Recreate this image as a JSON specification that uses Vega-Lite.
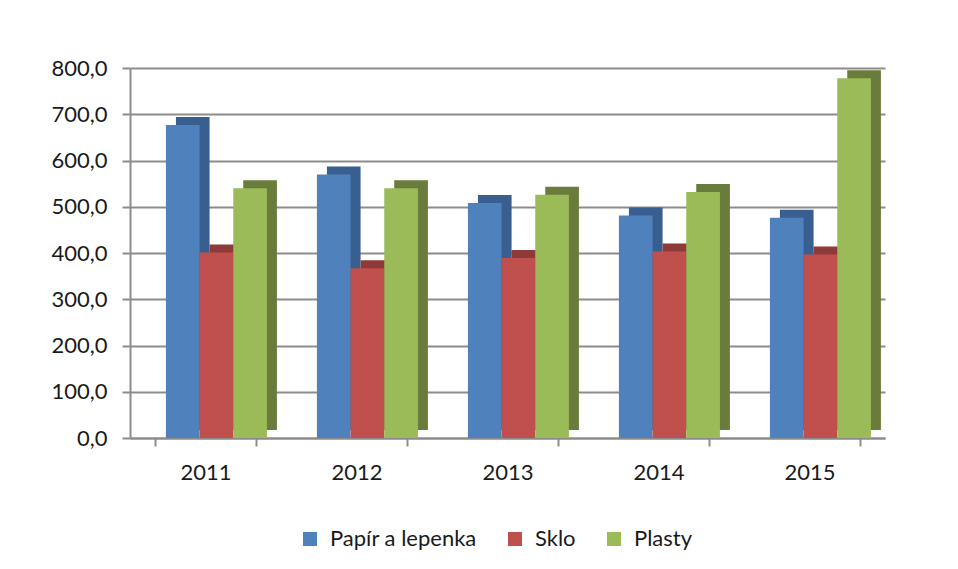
{
  "$schema": "https://vega.github.io/schema/vega-lite/v6.json",
  "autosize": "none",
  "width": 755,
  "height": 370,
  "padding": {"left": 130, "top": 68, "right": 73, "bottom": 131},
  "background": "white",
  "data": {
    "values": [
      {"rok": "2011", "druh": "Papír a lepenka", "hodnota": 677},
      {"rok": "2011", "druh": "Sklo", "hodnota": 401},
      {"rok": "2011", "druh": "Plasty", "hodnota": 540},
      {"rok": "2012", "druh": "Papír a lepenka", "hodnota": 570},
      {"rok": "2012", "druh": "Sklo", "hodnota": 367},
      {"rok": "2012", "druh": "Plasty", "hodnota": 540},
      {"rok": "2013", "druh": "Papír a lepenka", "hodnota": 508},
      {"rok": "2013", "druh": "Sklo", "hodnota": 389},
      {"rok": "2013", "druh": "Plasty", "hodnota": 526},
      {"rok": "2014", "druh": "Papír a lepenka", "hodnota": 481},
      {"rok": "2014", "druh": "Sklo", "hodnota": 403},
      {"rok": "2014", "druh": "Plasty", "hodnota": 532},
      {"rok": "2015", "druh": "Papír a lepenka", "hodnota": 476},
      {"rok": "2015", "druh": "Sklo", "hodnota": 397},
      {"rok": "2015", "druh": "Plasty", "hodnota": 778}
    ]
  },
  "encoding": {
    "x": {
      "field": "rok",
      "type": "nominal",
      "title": null,
      "scale": {"paddingInner": 0.33, "paddingOuter": 0.165},
      "axis": {
        "labelAngle": 0,
        "labelFontSize": 22,
        "labelColor": "#1a1a1a",
        "labelPadding": 16,
        "tickBand": "extent",
        "tickSize": 8,
        "tickColor": "#8c8c8c",
        "tickWidth": 2,
        "domainColor": "#8c8c8c",
        "domainWidth": 2,
        "grid": false
      }
    },
    "y": {
      "field": "hodnota",
      "type": "quantitative",
      "title": null,
      "scale": {"domain": [0, 800], "nice": false},
      "axis": {
        "values": [0, 100, 200, 300, 400, 500, 600, 700, 800],
        "format": ".1f",
        "labelFontSize": 22,
        "labelColor": "#1a1a1a",
        "labelPadding": 15,
        "tickSize": 8,
        "tickColor": "#8c8c8c",
        "tickWidth": 2,
        "domainColor": "#8c8c8c",
        "domainWidth": 2,
        "grid": true,
        "gridColor": "#8c8c8c",
        "gridWidth": 2
      }
    }
  },
  "layer": [
    {
      "mark": {"type": "bar", "stroke": null, "yOffset": -8, "y2Offset": -8},
      "encoding": {
        "xOffset": {
          "field": "druh",
          "type": "nominal",
          "sort": ["Papír a lepenka", "Sklo", "Plasty"],
          "scale": {"paddingInner": 0, "paddingOuter": 0, "range": [21, 122]}
        },
        "color": {
          "field": "druh",
          "type": "nominal",
          "scale": {
            "domain": ["Papír a lepenka", "Sklo", "Plasty"],
            "range": ["#385F8F", "#8E3A38", "#6A7C3C"]
          },
          "legend": null
        }
      }
    },
    {
      "mark": {"type": "bar", "stroke": null},
      "encoding": {
        "xOffset": {
          "field": "druh",
          "type": "nominal",
          "sort": ["Papír a lepenka", "Sklo", "Plasty"],
          "scale": {"paddingInner": 0, "paddingOuter": 0, "range": [11, 112]}
        },
        "fill": {
          "field": "druh",
          "type": "nominal",
          "sort": ["Papír a lepenka", "Sklo", "Plasty"],
          "scale": {
            "domain": ["Papír a lepenka", "Sklo", "Plasty"],
            "range": ["#4F81BD", "#C0504D", "#9BBB59"]
          },
          "legend": {
            "title": null,
            "orient": "none",
            "legendX": 169,
            "legendY": 460,
            "direction": "horizontal",
            "symbolType": "square",
            "symbolSize": 196,
            "symbolStrokeWidth": 0,
            "labelFontSize": 22,
            "labelColor": "#1a1a1a",
            "labelOffset": 9,
            "columnPadding": 27
          }
        }
      }
    }
  ],
  "resolve": {"scale": {"color": "independent", "fill": "independent", "xOffset": "independent"}},
  "config": {
    "font": "Lato",
    "view": {"stroke": null},
    "locale": {
      "number": {"decimal": ",", "thousands": " ", "grouping": [3], "currency": ["", " Kč"]}
    }
  }
}
